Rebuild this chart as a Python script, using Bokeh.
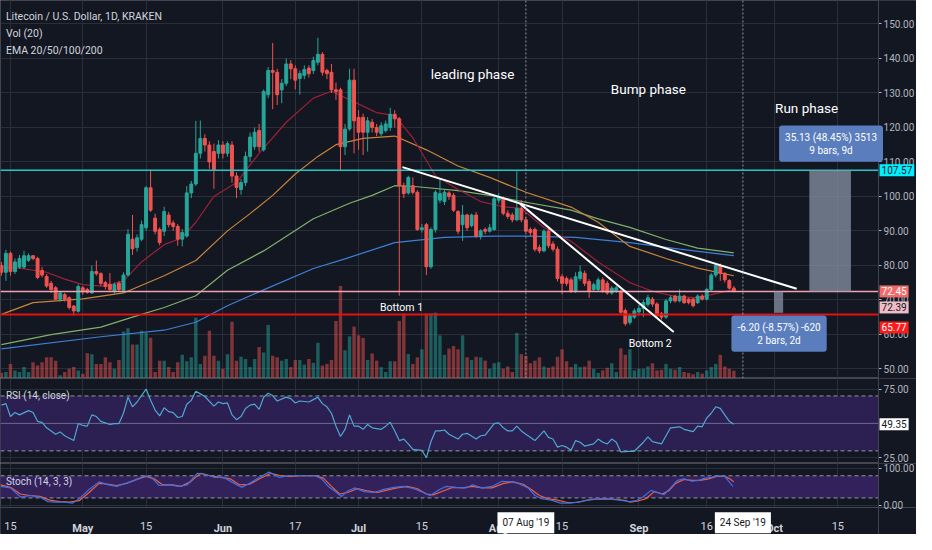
from bokeh.plotting import figure
from bokeh.models import (Range1d, FixedTicker, NumeralTickFormatter, Span, BoxAnnotation, Label,
                          ColumnDataSource, LinearAxis)
from bokeh.layouts import column
from bokeh.embed import file_html
from bokeh.resources import INLINE

# days are counted from 15 Apr 2019 (= day 0), one daily candle from 13 Apr to 22 Sep
days = list(range(-2, 161))

opens = [80.0, 78.0, 83.5, 78.2, 79.5, 79.5, 81.5, 82.8, 82.0, 78.5,
         76.8, 74.8, 73.5, 70.2, 71.5, 70.6, 68.2, 66.7, 73.5, 73.0,
         72.0, 78.2, 77.6, 75.0, 74.5, 72.5, 74.8, 72.8, 77.2, 87.6,
         85.2, 87.6, 90.9, 102.5, 93.7, 90.4, 89.9, 94.6, 92.3, 91.3,
         87.6, 88.5, 101.0, 103.6, 112.5, 116.8, 114.9, 113.0, 112.5, 114.9,
         112.5, 114.9, 105.9, 102.0, 104.0, 111.6, 114.4, 119.1, 113.5, 129.5,
         136.5, 136.0, 130.9, 132.8, 138.4, 137.0, 134.2, 135.1, 137.2, 136.5,
         138.9, 141.2, 136.5, 136.0, 130.9, 130.9, 114.4, 119.6, 133.7, 122.9,
         122.9, 118.6, 121.5, 120.0, 118.2, 119.1, 120.0, 123.8, 122.5, 103.1,
         101.0, 103.1, 101.2, 90.4, 91.8, 79.6, 90.4, 98.9, 98.5, 101.0,
         100.3, 95.6, 91.8, 94.6, 91.5, 94.6, 88.5, 90.4, 89.9, 90.4,
         98.9, 99.3, 95.1, 94.6, 93.2, 96.5, 93.2, 90.4, 90.4, 85.2,
         84.2, 89.9, 86.2, 84.7, 76.7, 76.2, 75.8, 72.5, 76.2, 77.7,
         75.3, 73.0, 73.0, 75.8, 74.8, 72.0, 72.5, 72.5, 66.9, 63.5,
         65.0, 66.5, 67.5, 68.7, 70.2, 68.8, 66.0, 65.0, 69.7, 71.1,
         69.7, 71.1, 70.2, 70.2, 69.2, 71.1, 70.2, 73.0, 77.2, 80.0,
         77.7, 75.6, 73.4]
highs = [81.0, 84.5, 84.0, 82.0, 83.0, 84.2, 83.5, 83.0, 82.5, 79.5,
         77.5, 75.5, 74.0, 72.5, 72.0, 71.0, 68.5, 74.5, 74.0, 73.5,
         80.0, 81.4, 78.0, 75.5, 77.8, 75.0, 75.5, 78.0, 90.5, 94.6,
         89.0, 93.0, 103.0, 107.8, 95.0, 91.0, 97.0, 95.5, 93.0, 92.0,
         90.5, 103.0, 104.5, 121.9, 122.0, 118.0, 116.0, 115.3, 116.3, 116.0,
         116.0, 116.0, 107.0, 105.0, 113.0, 118.5, 120.0, 121.0, 131.0, 137.5,
         144.5, 137.0, 134.0, 140.0, 139.5, 138.0, 136.5, 138.0, 138.0, 140.5,
         146.0, 141.8, 137.0, 138.4, 133.0, 131.5, 121.0, 137.0, 137.0, 125.0,
         124.0, 123.0, 122.5, 121.0, 121.5, 122.0, 125.7, 125.0, 123.0, 104.0,
         106.0, 105.5, 101.8, 92.0, 92.3, 91.0, 101.8, 105.0, 102.0, 101.5,
         101.0, 96.0, 97.5, 95.0, 95.0, 95.5, 90.5, 91.0, 92.0, 99.8,
         101.0, 100.0, 96.0, 95.3, 107.3, 99.0, 94.0, 91.0, 91.0, 86.0,
         90.5, 90.5, 87.0, 85.5, 77.5, 76.8, 76.5, 78.0, 80.0, 78.5,
         76.0, 75.0, 76.5, 76.5, 75.5, 74.0, 74.0, 73.0, 67.5, 66.0,
         67.5, 68.5, 70.0, 71.5, 70.8, 69.3, 66.5, 70.3, 71.3, 71.5,
         73.0, 71.5, 70.6, 70.6, 71.6, 71.6, 73.5, 77.8, 80.5, 80.5,
         78.0, 76.0, 74.0]
lows = [77.0, 75.5, 77.0, 77.5, 79.0, 79.0, 81.0, 81.5, 76.0, 76.5,
        73.5, 72.0, 70.0, 69.5, 69.5, 67.2, 65.4, 66.3, 71.5, 71.8,
        71.8, 77.0, 74.0, 73.0, 72.5, 71.8, 72.5, 72.3, 76.8, 83.0,
        84.0, 87.0, 90.0, 95.5, 89.0, 85.8, 88.5, 91.0, 90.0, 85.7,
        85.5, 88.0, 99.5, 103.0, 111.0, 113.0, 108.0, 102.2, 111.0, 111.0,
        111.5, 104.0, 99.5, 100.5, 103.0, 110.0, 113.5, 113.0, 113.0, 128.5,
        125.3, 126.5, 127.0, 132.0, 134.0, 131.0, 129.5, 134.0, 134.5, 135.5,
        138.0, 135.0, 134.0, 130.0, 128.0, 107.3, 112.0, 119.0, 112.5, 113.5,
        112.0, 113.0, 118.5, 117.5, 117.5, 118.5, 119.0, 120.0, 71.2, 99.5,
        100.5, 100.5, 90.0, 89.5, 77.2, 79.0, 89.5, 98.0, 97.5, 99.0,
        95.5, 89.0, 87.1, 90.0, 91.0, 88.0, 87.5, 89.0, 89.5, 90.0,
        98.0, 94.5, 93.5, 92.5, 92.8, 92.5, 89.5, 88.5, 84.0, 83.5,
        83.8, 85.0, 84.0, 75.3, 71.6, 74.0, 72.0, 72.0, 75.5, 74.0,
        70.6, 72.5, 72.5, 72.0, 71.5, 71.5, 72.0, 66.0, 62.5, 62.8,
        64.5, 65.5, 65.0, 68.0, 68.0, 64.8, 64.3, 64.5, 69.0, 69.2,
        69.3, 68.8, 68.7, 67.8, 68.8, 69.8, 69.8, 72.5, 76.5, 75.5,
        75.0, 73.0, 72.2]
closes = [78.0, 83.5, 78.2, 81.0, 82.0, 82.8, 82.8, 82.0, 76.5, 77.2,
          74.0, 73.0, 70.2, 72.0, 70.2, 67.8, 66.8, 73.9, 72.3, 72.2,
          78.2, 77.6, 74.8, 73.9, 73.0, 74.4, 73.0, 77.2, 89.0, 84.8,
          88.0, 91.8, 102.5, 96.0, 89.9, 86.6, 95.6, 91.8, 91.3, 87.6,
          89.5, 101.0, 103.6, 112.5, 116.8, 114.9, 110.0, 107.8, 114.9, 112.5,
          115.3, 105.9, 102.6, 104.0, 111.6, 117.2, 118.6, 114.4, 130.4, 136.5,
          136.0, 129.5, 132.8, 138.4, 137.0, 133.7, 135.6, 136.8, 135.6, 139.4,
          141.2, 136.0, 135.6, 130.9, 130.4, 114.4, 119.5, 133.7, 121.9, 118.6,
          118.6, 121.9, 120.0, 118.6, 120.5, 121.0, 123.8, 122.5, 103.1, 100.8,
          105.5, 101.2, 90.4, 90.9, 79.6, 90.4, 101.2, 100.8, 101.2, 100.0,
          96.0, 89.9, 94.6, 90.9, 94.6, 88.5, 90.0, 89.9, 90.9, 99.3,
          99.8, 95.1, 94.2, 93.2, 96.5, 93.2, 89.9, 89.5, 84.7, 84.2,
          89.9, 85.7, 84.7, 76.2, 74.8, 74.8, 72.5, 76.7, 78.1, 74.8,
          72.5, 74.4, 75.8, 72.5, 72.0, 73.4, 73.5, 66.4, 63.1, 65.4,
          66.8, 67.5, 69.2, 70.6, 68.8, 65.5, 65.0, 69.7, 70.6, 69.7,
          71.1, 69.2, 69.2, 68.3, 71.1, 70.2, 73.0, 77.2, 80.0, 77.7,
          75.8, 73.4, 72.45]
# volume, thousand LTC
volumes = [6.0, 6.7, 15.0, 8.3, 6.7, 11.7, 6.7, 16.7, 13.3, 16.7,
           21.7, 21.7, 18.3, 3.3, 6.7, 10.0, 11.7, 8.3, 5.0, 26.0,
           25.0, 15.0, 15.0, 21.7, 16.7, 10.0, 19.0, 48.3, 51.7, 35.0,
           35.0, 49.0, 46.7, 41.7, 6.7, 18.3, 18.3, 11.7, 6.7, 16.7,
           24.3, 17.7, 21.7, 62.3, 15.0, 23.3, 49.0, 23.3, 18.3, 10.0,
           25.0, 58.3, 18.3, 22.3, 20.0, 11.7, 20.0, 32.3, 26.7, 55.0,
           23.3, 21.7, 18.3, 20.0, 11.7, 19.0, 19.0, 14.3, 20.0, 16.0,
           36.7, 13.3, 15.0, 19.0, 59.0, 95.0, 29.0, 43.3, 53.3, 44.3,
           41.7, 19.0, 25.7, 18.3, 11.7, 6.7, 17.7, 17.7, 59.0, 66.7,
           25.0, 15.0, 21.7, 30.0, 66.7, 66.7, 67.7, 44.3, 24.3, 30.7,
           33.3, 30.0, 44.3, 21.7, 19.0, 22.3, 21.7, 18.3, 10.0, 15.7,
           16.7, 10.0, 12.3, 6.7, 46.7, 25.0, 23.3, 15.7, 18.3, 21.7,
           12.3, 11.0, 12.3, 22.3, 30.0, 17.7, 11.7, 15.0, 11.7, 12.3,
           18.3, 10.0, 5.7, 8.3, 11.0, 15.7, 6.7, 31.0, 24.3, 30.0,
           8.3, 10.0, 10.0, 12.3, 15.7, 8.3, 9.0, 15.0, 10.0, 9.0,
           11.7, 6.7, 5.7, 4.3, 6.7, 5.0, 8.3, 11.7, 15.0, 24.3,
           12.3, 10.0, 8.0]

# moving averages
ema20_days = [-2, 2, 8, 12, 16, 21, 25, 29, 34, 38, 41, 45, 50, 55, 61, 67, 71, 75,
              81, 85, 89, 94, 99, 104, 109, 113, 118, 124, 130, 137, 142, 147, 152, 156, 160]
ema20 = [79.5, 79.2, 78.0, 76.0, 74.4, 73.9, 75.5, 81.0, 86.0, 88.0, 92.5, 100.0, 104.0, 112.5,
         121.5, 128.5, 130.5, 128.0, 124.3, 123.4, 117.0, 106.0, 102.0, 98.5, 97.0, 96.5, 91.0,
         87.0, 81.0, 75.0, 72.5, 71.0, 70.6, 71.8, 73.0]
ema50_days = [-2, 5, 16, 25, 34, 41, 48, 53, 58, 63, 68, 72, 78, 85, 92, 99, 106, 114,
              124, 130, 137, 145, 152, 160]
ema50 = [65.8, 69.2, 70.3, 72.0, 77.0, 81.4, 90.0, 95.0, 100.3, 106.5, 111.6, 115.0, 116.8,
         117.5, 113.5, 108.8, 105.5, 101.2, 96.9, 92.5, 85.5, 82.0, 79.2, 77.0]
ema100_days = [-2, 9, 20, 27, 34, 41, 48, 56, 67, 75, 80, 85, 90, 99, 106, 114, 124, 130,
               137, 145, 152, 160]
ema100 = [57.0, 59.9, 62.1, 65.0, 67.8, 71.2, 78.6, 84.2, 93.5, 98.0, 100.3, 103.1, 102.8,
          101.7, 100.3, 98.3, 96.0, 93.5, 91.0, 87.5, 85.0, 83.6]
ema200_days = [-2, 20, 34, 41, 48, 56, 67, 74, 85, 96, 107, 114, 125, 137, 148, 160]
ema200 = [55.8, 59.3, 61.2, 63.5, 68.3, 72.9, 79.1, 81.9, 86.6, 88.1, 88.5, 88.5, 88.1, 86.6,
          84.7, 82.8]

# RSI (14, close)
rsi_days = [-2, -1, 0, 1, 2, 4, 5, 6, 7, 8, 9, 10, 11, 12, 14, 15, 16, 17, 18, 19,
            20, 22, 23, 24, 25, 26, 27, 28, 30, 31, 32, 33, 34, 35, 36, 37, 38, 39, 40, 41,
            42, 43, 45, 46, 47, 48, 49, 50, 51, 52, 53, 54, 55, 56, 57, 58, 59, 61, 62, 63,
            64, 66, 67, 68, 69, 70, 71, 72, 73, 74, 75, 76, 77, 78, 79, 80, 82, 83, 84, 85,
            86, 87, 88, 89, 91, 92, 93, 94, 95, 96, 97, 99, 100, 101, 103, 104, 105, 107, 108, 109,
            110, 111, 112, 113, 114, 116, 118, 119, 120, 121, 122, 123, 124, 125, 126, 127, 129, 130, 131, 132,
            133, 134, 135, 137, 138, 140, 141, 142, 144, 145, 146, 148, 149, 151, 152, 153, 154, 155, 156, 157,
            158, 159, 160]
rsi = [63.3, 64.4, 55.0, 57.9, 56.2, 59.3, 57.9, 51.5, 50.8, 46.8, 44.5, 42.1, 43.8, 41.0, 37.5, 49.9, 48.5, 48.0, 56.2, 55.0,
       51.5, 49.2, 49.9, 49.9, 57.4, 69.1, 62.1, 65.6, 75.0, 66.8, 59.7, 55.5, 61.4, 58.6, 57.9, 54.3, 55.0, 64.0, 66.8, 73.4,
       71.5, 69.6, 62.6, 65.6, 64.4, 64.9, 56.2, 52.7, 55.0, 60.9, 63.3, 64.0, 60.2, 69.1, 71.9, 70.3, 66.3, 69.1, 68.0, 64.9,
       66.3, 65.6, 67.3, 69.0, 64.4, 62.1, 57.4, 48.0, 40.5, 45.7, 56.2, 48.0, 48.0, 45.7, 49.2, 46.8, 45.7, 48.0, 50.8, 44.5,
       37.5, 38.6, 35.1, 31.1, 30.4, 25.0, 36.7, 44.5, 44.5, 45.2, 42.1, 38.6, 42.1, 42.8, 38.6, 41.0, 41.4, 49.9, 50.4, 46.8,
       44.5, 44.5, 48.0, 44.5, 42.1, 37.5, 44.5, 39.8, 38.6, 32.7, 33.9, 32.7, 30.4, 37.5, 36.3, 33.5, 35.1, 38.6, 36.3, 35.1,
       38.6, 36.3, 29.2, 29.7, 29.7, 36.3, 40.2, 36.7, 35.1, 41.0, 46.8, 47.5, 45.7, 44.0, 48.0, 47.5, 53.9, 57.4, 62.1, 60.9,
       56.2, 51.5, 49.35]

# Stoch (14, 3, 3)
stoch_k_days = [-2.2, 0.0, 2.2, 4.3, 6.5, 8.3, 9.8, 12.0, 13.8, 15.2, 17.4, 19.6, 21.7, 23.5, 25.4, 27.5, 29.7, 31.2,
                32.9, 35.1, 37.3, 39.1, 41.3, 43.1, 45.0, 47.1, 48.9, 51.1, 52.9, 55.1, 57.2, 59.4, 61.6, 63.8, 66.0,
                67.4, 68.8, 70.3, 71.7, 73.2, 74.6, 76.1, 78.3, 80.4, 82.6, 84.8, 86.9, 89.1, 91.3, 92.8, 94.9, 96.4,
                98.5, 100.7, 102.2, 104.3, 106.5, 108.7, 110.9, 112.3, 114.5, 116.0, 117.4, 119.6, 121.7, 123.9, 126.1,
                128.3, 130.4, 132.6, 134.8, 136.9, 138.4, 139.9, 141.7, 143.1, 144.6, 146.0, 147.5, 149.0, 150.7, 152.2,
                153.6, 155.1, 156.5, 158.0, 158.7, 159.8]
stoch_k = [51.2, 47.1, 22.4, 26.6, 22.4, 10.1, 8.5, 8.5, 6.0, 18.3, 43.0, 63.5, 55.3, 51.2, 59.4, 67.6, 80.0, 75.9,
           53.7, 55.3, 51.2, 55.3, 86.6, 84.1, 75.9, 75.9, 63.5, 48.7, 59.4, 75.9, 89.8, 75.9, 80.0, 80.0, 80.0,
           80.0, 71.8, 51.2, 38.9, 24.1, 38.9, 47.1, 37.2, 34.8, 43.0, 48.7, 51.2, 45.5, 34.8, 26.6, 43.0, 51.2,
           48.7, 47.1, 55.3, 47.1, 51.2, 65.2, 63.5, 59.4, 47.1, 26.6, 18.3, 14.2, 6.0, 6.0, 10.1,
           15.9, 18.3, 16.7, 14.2, 10.1, 12.6, 22.4, 40.5, 34.8, 29.0, 47.1, 67.6, 71.8, 65.2, 67.6,
           73.5, 75.9, 80.0, 78.3, 67.6, 51.2]
stoch_d_days = [-2.2, 0.0, 2.2, 4.3, 6.5, 8.7, 10.9, 13.0, 15.2, 17.4, 19.6, 21.7, 23.5, 25.7, 27.9, 30.0, 31.8, 33.7,
                35.9, 37.7, 39.8, 42.0, 44.2, 46.4, 48.6, 50.7, 52.9, 55.1, 57.6, 59.8, 62.0, 64.1, 66.3,
                67.4, 69.2, 71.0, 72.8, 74.6, 76.8, 79.0, 81.2, 83.3, 85.5, 87.7, 89.9, 92.0, 93.5, 95.7, 97.8,
                100.0, 102.2, 104.3, 106.5, 109.1, 111.2, 113.4, 115.2, 117.0, 118.8, 121.0, 123.2, 125.4, 127.5,
                129.7, 131.9, 134.1, 136.2, 137.0, 138.8, 140.6, 142.4, 144.2, 145.7, 147.1, 149.0, 150.7, 152.5,
                154.4, 156.2, 158.0, 159.1, 160.0]
stoch_d = [55.3, 48.7, 30.7, 26.6, 24.1, 14.2, 10.1, 8.5, 12.6, 34.8, 59.4, 57.0, 53.7, 59.4, 70.1, 78.3, 71.8, 55.3,
           55.3, 51.2, 63.5, 86.6, 80.0, 75.9, 71.8, 55.3, 57.0, 71.8, 86.6, 80.0, 78.3, 80.0, 80.0,
           80.0, 73.5, 51.2, 30.7, 34.8, 45.5, 38.9, 34.8, 41.3, 47.1, 51.2, 45.5, 30.7, 28.2, 38.9, 48.7,
           47.1, 51.2, 47.1, 47.1, 59.4, 63.5, 57.0, 43.0, 26.6, 18.3, 14.2, 7.7, 7.7, 14.2,
           16.7, 17.5, 15.9, 12.6, 8.5, 11.8, 18.3, 37.2, 30.7, 40.5, 59.4, 70.1, 67.6, 67.6,
           71.8, 78.3, 78.3, 71.8, 63.5]

# axis ticks: day-of-month ticks and month starts
date_ticks = [0, 30, 63, 91, 122, 154, 183]
date_labels = ["15", "15", "17", "15", "15", "16", "15"]
month_ticks = [16, 47, 77, 108, 139, 169]
month_labels = ["May", "Jun", "Jul", "Aug", "Sep", "Oct"]
price_ticks = [50, 60, 70, 80, 90, 100, 110, 120, 130, 140, 150]

# horizontal levels drawn on the chart
levels = [107.57, 72.45, 65.77]
level_colors = ["#26c6c6", "#f0a3ae", "#e81010"]
level_widths = [1.5, 1.5, 2.0]

# drawn objects: trend lines and the two price-range measurements
trend_x0 = [86.7, 112.7]
trend_y0 = [108.5, 97.9]
trend_x1 = [173.9, 146.7]
trend_y1 = [73.2, 60.7]
range_left = [176.7, 168.9]
range_right = [185.9, 170.9]
range_bottom = [72.44, 66.25]
range_top = [107.57, 72.45]

BG = "#131722"
GRID = "#2a2e39"
EDGE = "#434651"
TXT = "#b2b5be"
UP = "#26a69a"
DOWN = "#ef5350"
FONT = "Roboto"

# the frame runs under the price scale; the scale starts at day 192
X_START, SCALE_X, X_END = -2.2, 192.0, 200.4
grid_days = sorted(date_ticks + month_ticks)

colors = [UP if c >= o else DOWN for o, c in zip(opens, closes)]
src = ColumnDataSource(dict(day=days, open=opens, high=highs, low=lows, close=closes, vol=volumes,
                            top=[max(o, c) for o, c in zip(opens, closes)],
                            bottom=[min(o, c) for o, c in zip(opens, closes)],
                            color=colors))

x_range = Range1d(X_START, X_END)


def panel(height, y_range, ticks, x_axis=None):
    p = figure(width=916, height=height, x_range=x_range, y_range=y_range, title=None,
               output_backend="svg", toolbar_location=None,
               x_axis_location=x_axis, y_axis_location="right",
               min_border_left=0, min_border_right=0, min_border_top=0, min_border_bottom=0,
               background_fill_color=BG, border_fill_color=BG, outline_line_color=EDGE)
    p.xgrid.ticker = FixedTicker(ticks=grid_days)
    p.xgrid.grid_line_color = GRID
    p.ygrid.ticker = FixedTicker(ticks=ticks)
    p.ygrid.grid_line_color = GRID
    # blank strip behind the price scale, then the scale drawn on its left edge
    p.add_layout(BoxAnnotation(left=SCALE_X, fill_color=BG, fill_alpha=1, line_color=None, level="underlay"))
    p.add_layout(Span(location=SCALE_X, dimension="height", line_color=EDGE, line_width=1))
    p.yaxis.fixed_location = SCALE_X
    p.yaxis.ticker = FixedTicker(ticks=ticks)
    p.yaxis.formatter = NumeralTickFormatter(format="0.00")
    p.yaxis.axis_line_color = None
    p.yaxis.major_tick_line_color = TXT
    p.yaxis.major_tick_out = 3
    p.yaxis.major_tick_in = 0
    p.yaxis.minor_tick_line_color = None
    p.yaxis.major_label_standoff = 2
    p.yaxis.major_label_text_color = TXT
    p.yaxis.major_label_text_font = FONT
    p.yaxis.major_label_text_font_size = "10px"
    return p


def hlines(p, ys, colors, widths, dash="solid"):
    p.segment(x0=[X_START] * len(ys), x1=[SCALE_X] * len(ys), y0=ys, y1=ys,
              line_color=colors, line_width=widths, line_dash=dash)


def tag(p, y, text, fill, color):
    p.add_layout(Label(x=SCALE_X, y=y, text=text, text_align="left", text_baseline="middle",
                       x_offset=1, text_font=FONT, text_font_size="10px", text_color=color,
                       background_fill_color=fill, padding=2))


def note(p, x, y, text, size="10.5px", color="#d1d4dc", align="center"):
    p.add_layout(Label(x=x, y=y, text=text, text_align=align, text_baseline="middle",
                       text_font=FONT, text_font_size=size, text_color=color))


# ---------- price panel ----------
main = panel(378, Range1d(47.2, 156.8), price_ticks)
main.extra_y_ranges = {"vol": Range1d(0, 388)}

main.vbar(x="day", width=0.75, top="vol", bottom=0, y_range_name="vol", source=src,
          fill_color="color", fill_alpha=0.5, line_color=None)

main.line(ema200_days, ema200, color="#3d7fd6", line_width=1.2)
main.line(ema100_days, ema100, color="#7fb069", line_width=1.2)
main.line(ema50_days, ema50, color="#c9843a", line_width=1.2)
main.line(ema20_days, ema20, color="#9c2038", line_width=1.2)

main.segment(x0="day", y0="high", x1="day", y1="low", color="color", line_width=1, source=src)
main.vbar(x="day", width=0.64, top="top", bottom="bottom", fill_color="color", line_color="color", source=src)

hlines(main, levels, level_colors, level_widths)

main.quad(left=range_left, right=range_right, bottom=range_bottom, top=range_top,
          fill_color="#8893a6", fill_alpha=0.75, line_color=None)
main.segment(x0=trend_x0, y0=trend_y0, x1=trend_x1, y1=trend_y1, color="white", line_width=2)

for d in (114, 162):
    main.add_layout(Span(location=d, dimension="height", line_color="#9598a1",
                         line_width=1, line_dash="2 2"))

note(main, -1.0, 152.3, "Litecoin / U.S. Dollar, 1D, KRAKEN", align="left")
note(main, -1.0, 147.2, "Vol (20)", align="left")
note(main, -1.0, 142.4, "EMA 20/50/100/200", align="left")
note(main, 102.2, 135.6, "leading phase", size="13.5px", color="white")
note(main, 141.1, 131.1, "Bump phase", size="13.5px", color="white")
note(main, 176.1, 125.7, "Run phase", size="13.5px", color="white")
note(main, 86.5, 67.8, "Bottom 1", size="10.5px", color="white")
note(main, 141.5, 57.3, "Bottom 2", size="10.5px", color="white")

for x, y, text in [(181.5, 115.3, "35.13 (48.45%) 3513\n9 bars, 9d"),
                   (170.0, 60.2, "-6.20 (-8.57%) -620\n2 bars, 2d")]:
    main.add_layout(Label(x=x, y=y, text=text, text_align="center", text_baseline="middle",
                          text_font=FONT, text_font_size="10px", text_color="white",
                          background_fill_color="#5a7dbd", padding=6, border_radius=3))

tag(main, 107.57, "107.57", "#00f0ff", BG)
tag(main, 72.45, "72.45", "#f06a6a", "white")
tag(main, 67.8, "72.39", "#efbcc8", BG)
tag(main, 62.0, "65.77", "#ff1a1a", "white")

# ---------- RSI panel ----------
rsi_p = panel(85, Range1d(20.8, 82.7), [25, 75])
rsi_p.add_layout(BoxAnnotation(bottom=30, top=70, right=SCALE_X, fill_color="#2c1f52",
                               fill_alpha=1, line_color=None, level="underlay"))
hlines(rsi_p, [70, 30], "#9598a1", 1, dash="4 3")
hlines(rsi_p, [50], "#6f6790", 1)
rsi_p.line(rsi_days, rsi, color="#4fa8d1", line_width=1.2)
note(rsi_p, -1.0, 70.0, "RSI (14, close)", size="10px", align="left")
tag(rsi_p, 49.35, "49.35", "white", BG)

# ---------- Stoch panel, the date axis sits at its lower edge ----------
STOCH_FLOOR = -5.3
st = panel(71, Range1d(-78.9, 113.2), [0, 100], x_axis="below")
st.add_layout(BoxAnnotation(top=STOCH_FLOOR, fill_color=BG, fill_alpha=1, line_color=None, level="underlay"))
month_axis = LinearAxis()
st.add_layout(month_axis, "below")
for ax, ticks, labels, style in [(st.xaxis[0], date_ticks, date_labels, "normal"),
                                 (month_axis, month_ticks, month_labels, "bold")]:
    ax.fixed_location = STOCH_FLOOR
    ax.ticker = FixedTicker(ticks=ticks)
    ax.major_label_overrides = dict(zip(ticks, labels))
    ax.axis_line_color = EDGE
    ax.major_tick_line_color = None
    ax.minor_tick_line_color = None
    ax.major_label_text_color = "#d1d4dc"
    ax.major_label_text_font = FONT
    ax.major_label_text_font_size = "11px"
    ax.major_label_text_font_style = style
    ax.major_label_standoff = 9
st.add_layout(BoxAnnotation(bottom=20, top=80, right=SCALE_X, fill_color="#33215c",
                            fill_alpha=1, line_color=None, level="underlay"))
hlines(st, [80, 20], "#9598a1", 1, dash="4 3")
st.line(stoch_d_days, stoch_d, color="#f0603a", line_width=1.2)
st.line(stoch_k_days, stoch_k, color="#3d6fe5", line_width=1.2)
note(st, -1.0, 65.8, "Stoch (14, 3, 3)", size="10px", align="left")

for d, text in [(114, "07 Aug '19"), (162, "24 Sep '19")]:
    st.add_layout(Label(x=d, y=-47.0, text=text, text_align="center", text_baseline="middle",
                        text_font=FONT, text_font_size="10px", text_color=BG,
                        background_fill_color="white", padding=5))

layout = column(main, rsi_p, st)
open("out.html", "w").write(file_html(layout, INLINE))
